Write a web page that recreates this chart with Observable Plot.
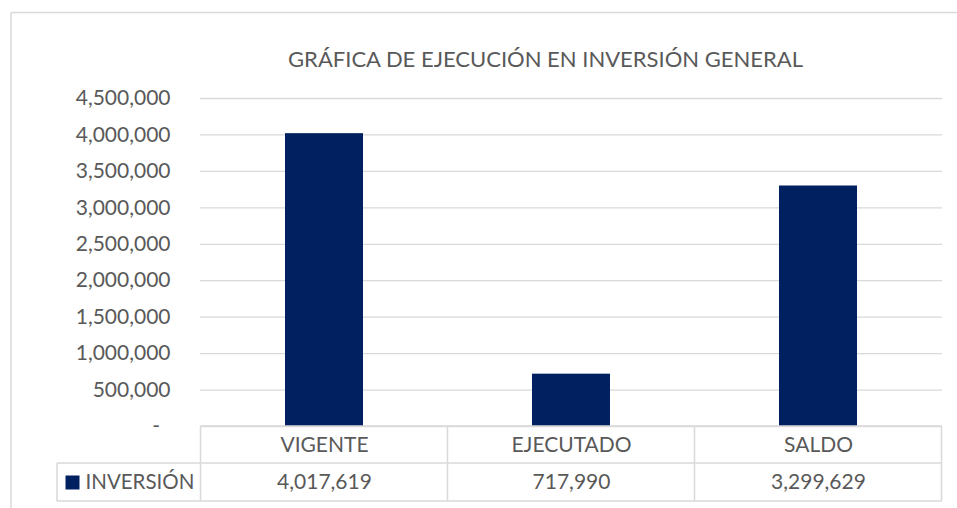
<!DOCTYPE html>
<html>
<head>
<meta charset="utf-8">
<script src="https://cdn.jsdelivr.net/npm/d3@7"></script>
<script src="https://cdn.jsdelivr.net/npm/@observablehq/plot@0.6"></script>
<style>
  html, body { margin: 0; padding: 0; background: #fff; }
</style>
</head>
<body>
<div id="chart"></div>
<script>
const title = "GRÁFICA DE EJECUCIÓN EN INVERSIÓN GENERAL";
const categories = ["VIGENTE", "EJECUTADO", "SALDO"];
const values = [4017619, 717990, 3299629];
const seriesName = "INVERSIÓN";
const yTicks = [0, 500000, 1000000, 1500000, 2000000, 2500000, 3000000, 3500000, 4000000, 4500000];

const data = categories.map((c, i) => ({cat: c, value: values[i]}));
const fmt = d3.format(",");
const tickFmt = d => d === 0 ? "-\u2002" : fmt(d);

const W = 957, H = 508;
const mL = 200, mR = 15, mT = 98, mB = 82;
const textColor = "#595959";
const lineColor = "#d9d9d9";
const barColor = "#002060";

const chart = Plot.plot({
  width: W,
  height: H,
  marginTop: mT,
  marginBottom: mB,
  marginLeft: mL,
  marginRight: mR,
  style: {fontFamily: "Lato, 'Open Sans', sans-serif", fontSize: "21px", color: textColor, background: "#fff", overflow: "visible"},
  x: {domain: categories, paddingInner: 0.685, paddingOuter: 0.3425, axis: null},
  y: {domain: [0, 4500000], axis: null},
  marks: [
    Plot.gridY(yTicks, {stroke: lineColor, strokeOpacity: 1, strokeWidth: 1.3}),
    Plot.axisY(yTicks, {tickSize: 0, tickPadding: 30, tickFormat: tickFmt, fill: textColor, label: null, fontSize: 21}),
    Plot.barY(data, {x: "cat", y: "value", fill: barColor}),
    Plot.text(data, {x: "cat", text: "cat", frameAnchor: "bottom", lineAnchor: "middle", dy: 18.5, fill: textColor, fontSize: 21}),
    Plot.text(data, {x: "cat", text: d => fmt(d.value), frameAnchor: "bottom", lineAnchor: "middle", dy: 56, fill: textColor, fontSize: 21}),
    Plot.text([seriesName], {frameAnchor: "bottom-left", lineAnchor: "middle", dx: -115, dy: 56, textAnchor: "start", fill: textColor, fontSize: 20.5}),
    Plot.dot([seriesName], {frameAnchor: "bottom-left", dx: -128, dy: 56, symbol: "square", r: 7.9, fill: barColor, stroke: null}),
    Plot.text([title], {frameAnchor: "top", lineAnchor: "middle", dx: -26, dy: -39, fill: textColor, fontSize: 22, letterSpacing: "0.4px"})
  ]
});

document.getElementById("chart").appendChild(chart);

// Data-table grid and chart border drawn from the Plot scales
const xs = chart.scale("x");
const ys = chart.scale("y");
const step = xs.step;
const bw = xs.bandwidth;
const y0 = ys.apply(0);
const row1 = y0 + 37;
const row2 = y0 + 75;
const svg = d3.select(chart);
const g = svg.append("g").attr("stroke", lineColor).attr("stroke-width", 1.5).attr("fill", "none");
const bounds = categories.map(c => xs.apply(c) + bw / 2 - step / 2);
bounds.push(xs.apply(categories[categories.length - 1]) + bw / 2 + step / 2);
const legendLeft = mL - 143;
// horizontal lines
g.append("line").attr("x1", bounds[0]).attr("x2", bounds[bounds.length - 1]).attr("y1", y0).attr("y2", y0);
g.append("line").attr("x1", legendLeft).attr("x2", bounds[bounds.length - 1]).attr("y1", row1).attr("y2", row1);
g.append("line").attr("x1", legendLeft).attr("x2", bounds[bounds.length - 1]).attr("y1", row2).attr("y2", row2);
// vertical lines
bounds.forEach(b => g.append("line").attr("x1", b).attr("x2", b).attr("y1", y0).attr("y2", row2));
g.append("line").attr("x1", legendLeft).attr("x2", legendLeft).attr("y1", row1).attr("y2", row2);
// outer chart border
g.append("line").attr("x1", 11).attr("x2", W).attr("y1", 12.5).attr("y2", 12.5);
g.append("line").attr("x1", 11).attr("x2", 11).attr("y1", 12.5).attr("y2", H);
</script>
</body>
</html>
